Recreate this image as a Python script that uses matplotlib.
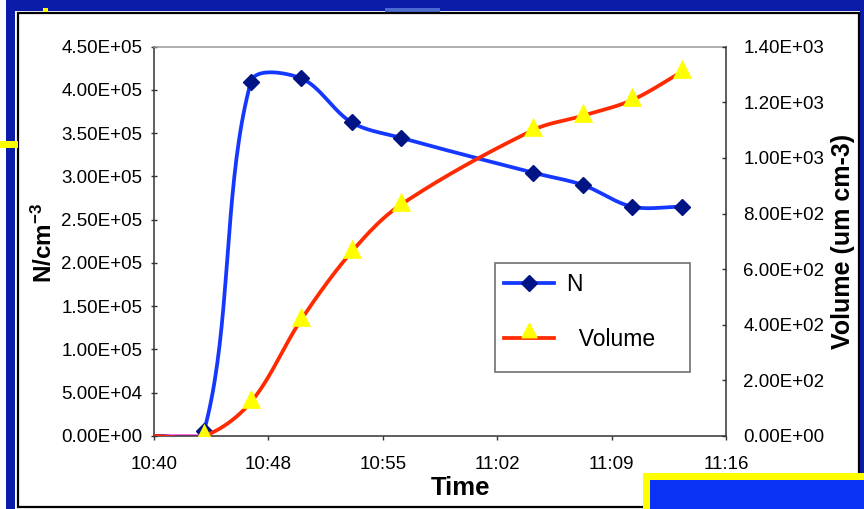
import numpy as np
import matplotlib
matplotlib.use("Agg")
import matplotlib.pyplot as plt
from matplotlib.patches import Rectangle
from matplotlib.lines import Line2D
from matplotlib.path import Path

plt.rcParams['font.family'] = ['Liberation Sans', 'DejaVu Sans']
plt.rcParams['mathtext.fontset'] = 'custom'
plt.rcParams['mathtext.rm'] = 'Liberation Sans'
plt.rcParams['mathtext.bf'] = 'Liberation Sans:bold'

# ---- data -------------------------------------------------------------
times = ["10:40:00", "10:43:09", "10:46:06", "10:49:15", "10:52:26",
         "10:55:31", "11:03:51", "11:07:00", "11:10:05", "11:13:14"]
n_conc = [0, 5.8e3, 4.095e5, 4.135e5, 3.626e5, 3.448e5,
          3.044e5, 2.901e5, 2.651e5, 2.651e5]
volume = [0, 0, 122, 417, 662, 831, 1100, 1152, 1208, 1310]
baseline_times = ["10:40:00", "10:43:09"]
baseline_vals = [0, 0]

xtick_labels = ["10:40", "10:48", "10:55", "11:02", "11:09", "11:16"]
n_ticks = np.arange(0, 4.5e5 + 1, 5e4)
v_ticks = np.arange(0, 1400 + 1, 200)

X_MAX = 36.0        # minutes after 10:40 shown on the time axis
N_MAX = 4.5e5
V_MAX = 1400.0


def minutes(stamps):
    out = []
    for s in stamps:
        h, m, sec = (int(p) for p in s.split(":"))
        out.append((h * 60 + m + sec / 60.0) - (10 * 60 + 40))
    return np.array(out)


t = minutes(times)
tb = minutes(baseline_times)

# ---- figure layout (pixel based) ----------------------------------------
W, H = 864, 509
fig = plt.figure(figsize=(W / 100, H / 100), dpi=100)
fig.patch.set_facecolor("#0A1CA8")


def box(x0, y0, x1, y1, **kw):
    """Rectangle given in pixels measured from the top-left corner."""
    r = Rectangle((x0 / W, 1 - y1 / H), (x1 - x0) / W, (y1 - y0) / H,
                  transform=fig.transFigure, **kw)
    fig.patches.append(r)
    return r


# slide frame around the chart
box(0, 0, 6, H, facecolor="white", edgecolor="none", zorder=0)
box(15, 11, 860, H + 5, facecolor="white", edgecolor="none", zorder=0)
box(18, 12.5, 859, 506.5, facecolor="white", edgecolor="black",
    linewidth=1.6, zorder=0.5)
box(385, 8, 440, 12, facecolor="#4A6AD0", edgecolor="none", zorder=0.4)
box(0, 141, 18, 148, facecolor="#FFFF00", edgecolor="none", zorder=1)
box(43, 8, 48, 11.5, facecolor="#FFFF00", edgecolor="none", zorder=1)
box(643, 473, W, H, facecolor="#FFFF00", edgecolor="none", zorder=10)
box(650, 480, W, H, facecolor="#0A32F5", edgecolor="none", zorder=11)

# plot area
L, R, T, B = 154, 726, 46.7, 436
ax = fig.add_axes([L / W, 1 - B / H, (R - L) / W, (B - T) / H])
ax.set_facecolor("white")
ax.set_zorder(2)
ax2 = ax.twinx()
ax2.set_zorder(3)
ax2.patch.set_visible(False)

px_x = (R - L) / X_MAX
px_n = (B - T) / N_MAX
px_v = (B - T) / V_MAX


def smooth(x, y, sx, sy, steps=40):
    """Bezier smoothing through the points, evaluated in pixel space."""
    P = np.column_stack([np.asarray(x) * sx, np.asarray(y) * sy])
    n = len(P)
    out = [P[0]]
    s = np.linspace(0, 1, steps)[1:]
    for i in range(n - 1):
        p0 = P[i - 1] if i > 0 else P[i]
        p1, p2 = P[i], P[i + 1]
        p3 = P[i + 2] if i + 2 < n else P[i + 1]
        d01 = np.hypot(*(p1 - p0))
        d12 = np.hypot(*(p2 - p1))
        d23 = np.hypot(*(p3 - p2))
        c1 = p1 + (p2 - p0) * (d12 / (d01 + d12) / 3 if d01 + d12 else 0)
        c2 = p2 - (p3 - p1) * (d12 / (d12 + d23) / 3 if d12 + d23 else 0)
        for u in s:
            pt = ((1 - u) ** 3 * p1 + 3 * (1 - u) ** 2 * u * c1
                  + 3 * (1 - u) * u ** 2 * c2 + u ** 3 * p2)
            out.append(pt)
    out = np.array(out)
    return out[:, 0] / sx, out[:, 1] / sy


BLUE = "#1438FF"
NAVY = "#001485"
RED = "#FF2A00"
YELLOW = "#FFFF00"

# triangle centred on its centroid (plot) and one resting on its base (legend)
tri_centroid = Path([(0, 2 / 3), (-0.5, -1 / 3), (0.5, -1 / 3), (0, 2 / 3)],
                    [Path.MOVETO, Path.LINETO, Path.LINETO, Path.CLOSEPOLY])
tri_base = Path([(0, 1), (-0.5, 0.05), (0.5, 0.05), (0, 1)],
                [Path.MOVETO, Path.LINETO, Path.LINETO, Path.CLOSEPOLY])

# baseline segment at zero
ax.plot(tb, baseline_vals, color="#FF50E0", lw=2.6, zorder=2,
        solid_capstyle="butt")

sx, sy = smooth(t, n_conc, px_x, px_n)
ax.plot(sx, sy, color=BLUE, lw=2.7, zorder=3, solid_capstyle="butt")
ax.plot(t[1:], n_conc[1:], linestyle="none", marker="D", ms=7.8,
        color=NAVY, zorder=4)

vx, vy = smooth(t, volume, px_x, px_v)
ax2.plot(vx, vy, color=RED, lw=2.7, zorder=3, solid_capstyle="butt")
ax2.plot(t[1:], volume[1:], linestyle="none", marker=tri_centroid, ms=17.3,
         color=YELLOW, markeredgecolor=YELLOW, markeredgewidth=0.5, zorder=4)

# axes limits and ticks
ax.set_xlim(0, X_MAX)
ax.set_ylim(0, N_MAX)
ax2.set_ylim(0, V_MAX)
ax.set_xticks(np.linspace(0, X_MAX, len(xtick_labels)))
ax.set_xticklabels(xtick_labels)
ax.set_yticks(n_ticks)
ax.set_yticklabels([f"{v:.2E}" for v in n_ticks])
ax2.set_yticks(v_ticks)
ax2.set_yticklabels([f"{v:.2E}" for v in v_ticks])

FS = 13.5
ax.tick_params(axis="x", direction="out", length=3.2, width=1,
               color="#333333", labelsize=FS, pad=11.5)
ax.tick_params(axis="y", direction="inout", length=4.5, width=1,
               color="#333333", labelsize=FS, pad=6)
ax2.tick_params(axis="y", direction="in", length=3, width=1,
                color="#333333", labelsize=FS, pad=12.5)

for side in ("left", "bottom"):
    ax.spines[side].set_color("#333333")
    ax.spines[side].set_linewidth(1.1)
ax.spines["top"].set_color("#9A9A9A")
ax.spines["top"].set_linewidth(1.1)
ax.spines["right"].set_visible(False)
for side in ("left", "top", "bottom"):
    ax2.spines[side].set_visible(False)
ax2.spines["right"].set_color("#333333")
ax2.spines["right"].set_linewidth(1.1)

# axis titles
fig.text(461 / W, 1 - 488 / H, "Time", ha="center", va="center",
         fontsize=18.5, fontweight="bold")
fig.text(44 / W, 1 - 243 / H, r"$\mathbf{N/cm^{-3}}$", ha="center",
         va="center", rotation=90, fontsize=17.5)
fig.text(843 / W, 1 - 241 / H, "Volume (um cm-3)", ha="center",
         va="center", rotation=90, fontsize=18, fontweight="bold")

# legend
box(495, 263, 690, 372, facecolor="white", edgecolor="#707070",
    linewidth=1.2, zorder=20)
handles = [
    Line2D([], [], color=BLUE, lw=2.7, marker="D", ms=7.8,
           markerfacecolor=NAVY, markeredgecolor=NAVY),
    Line2D([], [], color=RED, lw=2.7, marker=tri_base, ms=21.6,
           markerfacecolor=YELLOW, markeredgecolor=YELLOW),
]
leg = fig.legend(handles, ["N", "  Volume"], loc="upper left",
                 bbox_to_anchor=(504 / W, 1 - 273 / H), frameon=False,
                 fontsize=16.5, handlelength=2.2, handletextpad=0.52,
                 labelspacing=1.38, borderpad=0, borderaxespad=0,
                 numpoints=1)
leg.set_zorder(21)

fig.savefig("out.png", dpi=100, facecolor=fig.get_facecolor())
